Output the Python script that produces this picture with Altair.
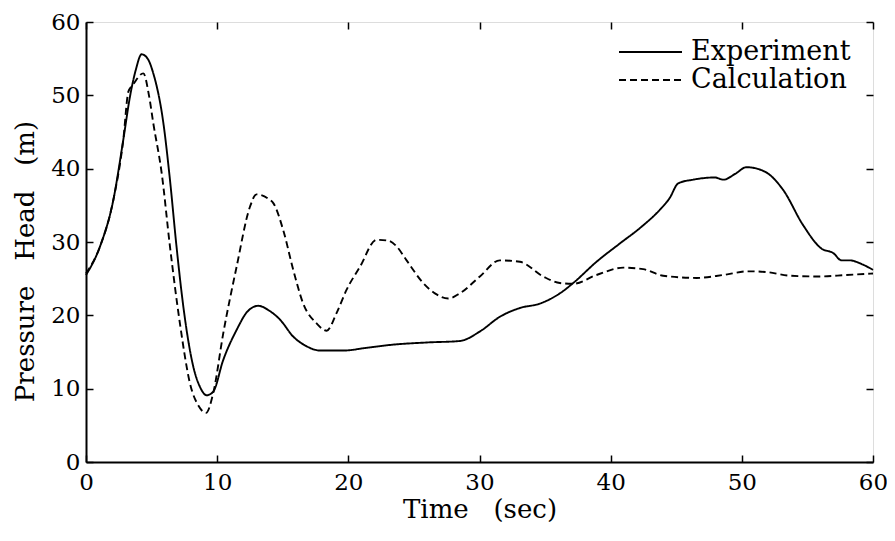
import altair as alt
import pandas as pd

# ---- data ----
series = ["Experiment", "Calculation"]

exp_t = [0, 1.07, 2.08, 2.84, 3.35, 3.8, 4.24, 4.7, 5.13, 5.9, 6.4, 6.9, 7.42, 8.18,
         8.7, 9.2, 9.7, 10.46, 11.48, 12.3, 13.13, 14.0, 14.8, 15.8, 16.8, 17.84,
         19.6, 21.5, 23.4, 26.0, 28.5, 30.03, 31.55, 33.08, 34.6, 36.13, 37.14,
         38.92, 40.7, 42.23, 43.75, 44.5, 45.15, 46.29, 47.94, 48.6, 49.5, 50.36,
         51.75, 53.15, 54.67, 56.07, 56.96, 57.6, 58.2, 59.25, 60]
exp_v = [25.5, 29.4, 35.7, 43.9, 49.8, 53.5, 55.6, 55.0, 53.0, 46.2, 38.5, 29.4,
         21.2, 13.0, 10.2, 9.1, 9.6, 13.9, 18.0, 20.5, 21.3, 20.6, 19.4, 17.1,
         15.8, 15.2, 15.2, 15.6, 16.0, 16.3, 16.5, 17.8, 19.8, 21.0, 21.6, 23.0,
         24.4, 27.3, 29.8, 31.9, 34.4, 36.0, 38.0, 38.5, 38.8, 38.5, 39.3, 40.2,
         39.6, 37.1, 32.3, 29.1, 28.5, 27.5, 27.5, 26.9, 26.2]

calc_t = [0, 1.07, 2.08, 2.84, 3.23, 3.6, 4.37, 4.8, 5.13, 5.77, 6.4, 7.16, 7.93,
          8.6, 9.15, 9.7, 10.46, 11.48, 12.5, 13.0, 13.9, 14.28, 15.04, 15.8,
          16.56, 17.58, 18.35, 19.1, 19.87, 20.88, 22.15, 23.0, 23.68, 24.44,
          25.71, 26.6, 27.62, 28.5, 30.03, 31.55, 33.08, 34.85, 36.13, 37.14,
          38.92, 40.96, 42.48, 44.0, 46.55, 48.58, 50.48, 51.88, 53.66, 55.95,
          57.98, 60]
calc_v = [25.7, 29.4, 35.7, 43.9, 50.5, 51.5, 53.0, 50.0, 46.2, 39.4, 29.4, 18.9,
          10.7, 7.6, 6.7, 9.4, 17.5, 26.6, 34.8, 36.5, 35.9, 35.3, 31.6, 26.2,
          21.6, 18.9, 17.9, 20.3, 23.5, 26.6, 30.3, 30.2, 29.4, 27.5, 24.4, 23.0,
          22.3, 23.0, 25.3, 27.5, 27.3, 25.3, 24.4, 24.3, 25.5, 26.5, 26.3, 25.4,
          25.1, 25.5, 26.0, 25.9, 25.4, 25.3, 25.5, 25.7]

x_ticks = [0, 10, 20, 30, 40, 50, 60]
y_ticks = [0, 10, 20, 30, 40, 50, 60]

df = pd.concat([
    pd.DataFrame({"t": exp_t, "v": exp_v, "series": series[0]}),
    pd.DataFrame({"t": calc_t, "v": calc_v, "series": series[1]}),
], ignore_index=True)

FONT = "DejaVu Serif"
inward = {"expr": "-7"}
GAP = "\u00a0\u00a0\u00a0"

common = dict(
    grid=False, domainColor="black", domainWidth=2, tickColor="black", tickWidth=1.5,
    labelFont=FONT, labelFontSize=23, labelColor="black",
    titleFont=FONT, titleFontSize=26, titleFontWeight="normal", titleColor="black",
    tickSize=inward,
)

xscale = alt.Scale(domain=[0, 60], nice=False, zero=False)
yscale = alt.Scale(domain=[0, 60], nice=False, zero=False)

lines = alt.Chart(df).mark_line(color="black", strokeWidth=1.9, interpolate="monotone").encode(
    x=alt.X("t:Q", scale=xscale,
            axis=alt.Axis(values=x_ticks, title="Time" + GAP + "(sec)",
                          labelPadding=16, titlePadding=2, labelFlush=False, **common)),
    y=alt.Y("v:Q", scale=yscale,
            axis=alt.Axis(values=y_ticks, title="Pressure" + GAP + "Head" + GAP + "(m)",
                          labelPadding=13, titlePadding=12, titleY=239, labelFlush=False,
                          **common)),
    strokeDash=alt.StrokeDash(
        "series:N",
        scale=alt.Scale(domain=series, range=[[1, 0], [7, 4]]),
        legend=alt.Legend(title="", orient="none", legendX=532, legendY=16,
                          symbolType="stroke", symbolSize=3969, symbolStrokeWidth=1.9,
                          symbolStrokeColor="black", labelFontSize=27, labelFont=FONT,
                          labelColor="black", labelOffset=8, rowPadding=0,
                          clipHeight=28, padding=0),
    ),
)

mirror = alt.Chart(df).mark_line(opacity=0).encode(
    x=alt.X("t:Q", scale=xscale,
            axis=alt.Axis(orient="top", values=x_ticks, labels=False, title="",
                          domain=False, **common)),
    y=alt.Y("v:Q", scale=yscale,
            axis=alt.Axis(orient="right", values=y_ticks, labels=False, title="",
                          domain=False, **common)),
    detail="series:N",
)

chart = alt.layer(lines, mirror).resolve_axis(x="independent", y="independent").properties(
    width=787, height=440,
    autosize=alt.AutoSizeParams(type="none"),
    padding={"left": 78, "top": 14, "right": 14, "bottom": 60},
).configure_view(
    stroke="black", strokeWidth=2
).configure(background="white")

chart.save("out.html", embed_options={"renderer": "svg", "actions": False})
